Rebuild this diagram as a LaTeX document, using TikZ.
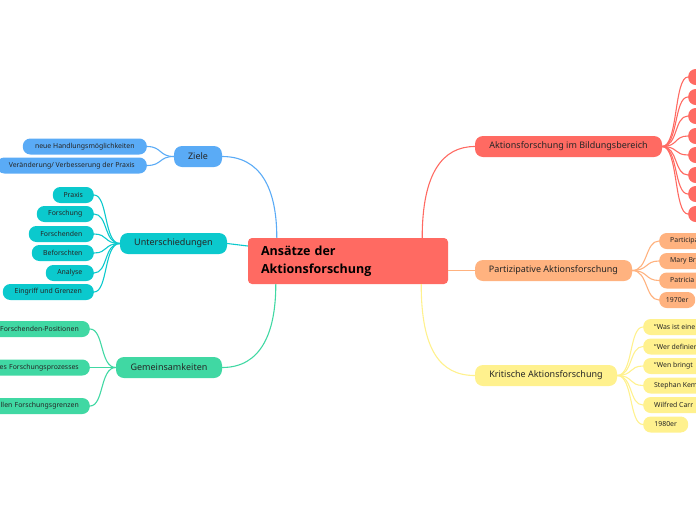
\documentclass[tikz,border=0pt]{standalone}
\usepackage{fontspec}
\setmainfont{Noto Sans}
\newfontfamily\titlefont{Open Sans}
\definecolor{cred}{HTML}{FF6A62}
\definecolor{cblue}{HTML}{5AABF6}
\definecolor{cteal}{HTML}{0BC9CD}
\definecolor{cgreen}{HTML}{40D8A3}
\definecolor{cpeach}{HTML}{FFB27F}
\definecolor{cyellow}{HTML}{FFF18E}
\definecolor{ctext}{HTML}{262626}
\begin{document}
\begin{tikzpicture}[x=1pt,y=-1pt,
  topic/.style={rounded corners=8pt, minimum height=21pt, inner sep=0pt,
    font=\fontsize{9}{10}\selectfont, text=ctext},
  leaf/.style={rounded corners=7.5pt, minimum height=16pt, inner sep=0pt,
    font=\fontsize{6.9}{7.5}\selectfont, text=ctext},
  rleaf/.style={leaf, anchor=west, inner xsep=11pt},
  conn/.style={line width=1.1pt}]
\useasboundingbox (0,0) rectangle (696,520);
\clip (0,0) rectangle (696,520);

% central
\node[fill=cred, rounded corners=4pt, text width=174pt, inner xsep=13pt,
  inner ysep=0pt, minimum height=46pt, align=left, text=black,
  font=\titlefont\bfseries\fontsize{12.5}{18}\selectfont] (central) at (348,261)
  {Ansätze der\\Aktionsforschung};

% main topics
\node[topic, fill=cblue, minimum width=48pt] (ziele) at (198,156.5) {Ziele};
\node[topic, fill=cteal, minimum width=107pt] (unter) at (173.5,243.5) {Unterschiedungen};
\node[topic, fill=cgreen, minimum width=106pt] (gemein) at (169,367.5) {Gemeinsamkeiten};
\node[topic, fill=cred, minimum width=187pt] (aktion) at (568.5,146.5) {Aktionsforschung im Bildungsbereich};
\node[topic, fill=cpeach, minimum width=157pt] (parti) at (553.5,270.5) {Partizipative Aktionsforschung};
\node[topic, fill=cyellow, minimum width=142pt] (krit) at (546,375.5) {Kritische Aktionsforschung};

% Ziele leaves
\node[leaf, fill=cblue, anchor=east, minimum width=124pt] (zc1) at (147,146.5) {neue Handlungsmöglichkeiten};
\node[leaf, fill=cblue, anchor=east, minimum width=150pt] (zc2) at (147,165.5) {Veränderung/ Verbesserung der Praxis};

% Unterschiedungen leaves
\node[leaf, fill=cteal, anchor=east, minimum width=41pt] (uc1) at (94,195) {Praxis};
\node[leaf, fill=cteal, anchor=east, minimum width=57pt] (uc2) at (94,214) {Forschung};
\node[leaf, fill=cteal, anchor=east, minimum width=65pt] (uc3) at (94,234) {Forschenden};
\node[leaf, fill=cteal, anchor=east, minimum width=62pt] (uc4) at (94,253) {Beforschten};
\node[leaf, fill=cteal, anchor=east, minimum width=48pt] (uc5) at (94,273) {Analyse};
\node[leaf, fill=cteal, anchor=east, minimum width=91pt] (uc6) at (94,292) {Eingriff und Grenzen};

% Gemeinsamkeiten leaves
\node[leaf, fill=cgreen, anchor=east, text width=150pt, align=right, inner xsep=11pt] (gc1) at (90,329) {Forschenden-Positionen};
\node[leaf, fill=cgreen, anchor=east, text width=150pt, align=right, inner xsep=11pt] (gc2) at (90,367.5) {es Forschungsprozesses};
\node[leaf, fill=cgreen, anchor=east, text width=150pt, align=right, inner xsep=11pt] (gc3) at (90,406) {llen Forschungsgrenzen};

% Aktionsforschung leaves (cut off at the edge)
\foreach \i/\y in {1/77,2/97,3/116,4/136,5/155,6/175,7/194,8/214}
  \node[leaf, fill=cred, anchor=west, minimum width=40pt] (ac\i) at (688,\y) {};

% Partizipative leaves
\node[rleaf, fill=cpeach] (pc1) at (659,241) {Participatory Action Research};
\node[rleaf, fill=cpeach] (pc2) at (659,261) {Mary Brydon-Miller};
\node[rleaf, fill=cpeach] (pc3) at (659,280.5) {Patricia Maguire};
\node[leaf, fill=cpeach, anchor=west, minimum width=36pt] (pc4) at (659,300) {1970er};

% Kritische leaves
\node[rleaf, fill=cyellow] (kc1) at (643,327) {“Was ist eine};
\node[rleaf, fill=cyellow] (kc2) at (643,346.5) {“Wer definiert};
\node[rleaf, fill=cyellow] (kc3) at (643,366) {“Wen bringt};
\node[rleaf, fill=cyellow] (kc4) at (643,385.5) {Stephan Kemmis};
\node[rleaf, fill=cyellow] (kc5) at (643,405) {Wilfred Carr};
\node[leaf, fill=cyellow, anchor=west, minimum width=45pt] (kc6) at (643,424.5) {1980er};

% main connectors
\draw[conn, cblue] (ziele.east) .. controls +(38,0) and +(0,-50) .. ([xshift=29pt]central.north west);
\draw[conn, cteal] (unter.east) -- ([yshift=15pt]central.west);
\draw[conn, cgreen] (gemein.east) .. controls +(38,0) and +(0,50) .. ([xshift=28pt]central.south west);
\draw[conn, cred] ([xshift=-26pt]central.north east) .. controls +(0,-65) and +(-32,0) .. (aktion.west);
\draw[conn, cpeach] (central.east |- parti.west) -- (parti.west);
\draw[conn, cyellow] ([xshift=-27pt]central.south east) .. controls +(0,65) and +(-35,0) .. (krit.west);

% leaf connectors
\foreach \c in {zc1,zc2}
  \draw[conn, cblue] (ziele.west) .. controls +(-15,0) and +(15,0) .. (\c.east);
\foreach \c in {uc1,uc2,uc3,uc4,uc5,uc6}
  \draw[conn, cteal] (unter.west) .. controls +(-16,0) and +(14,0) .. (\c.east);
\foreach \c in {gc1,gc2,gc3}
  \draw[conn, cgreen] (gemein.west) .. controls +(-16,0) and +(14,0) .. (\c.east);
\foreach \i in {1,...,8}
  \draw[conn, cred] (aktion.east) .. controls +(16,0) and +(-14,0) .. (ac\i.west);
\foreach \c in {pc1,pc2,pc3,pc4}
  \draw[conn, cpeach] (parti.east) .. controls +(16,0) and +(-14,0) .. (\c.west);
\foreach \c in {kc1,kc2,kc3,kc4,kc5,kc6}
  \draw[conn, cyellow] (krit.east) .. controls +(16,0) and +(-14,0) .. (\c.west);
\end{tikzpicture}
\end{document}
